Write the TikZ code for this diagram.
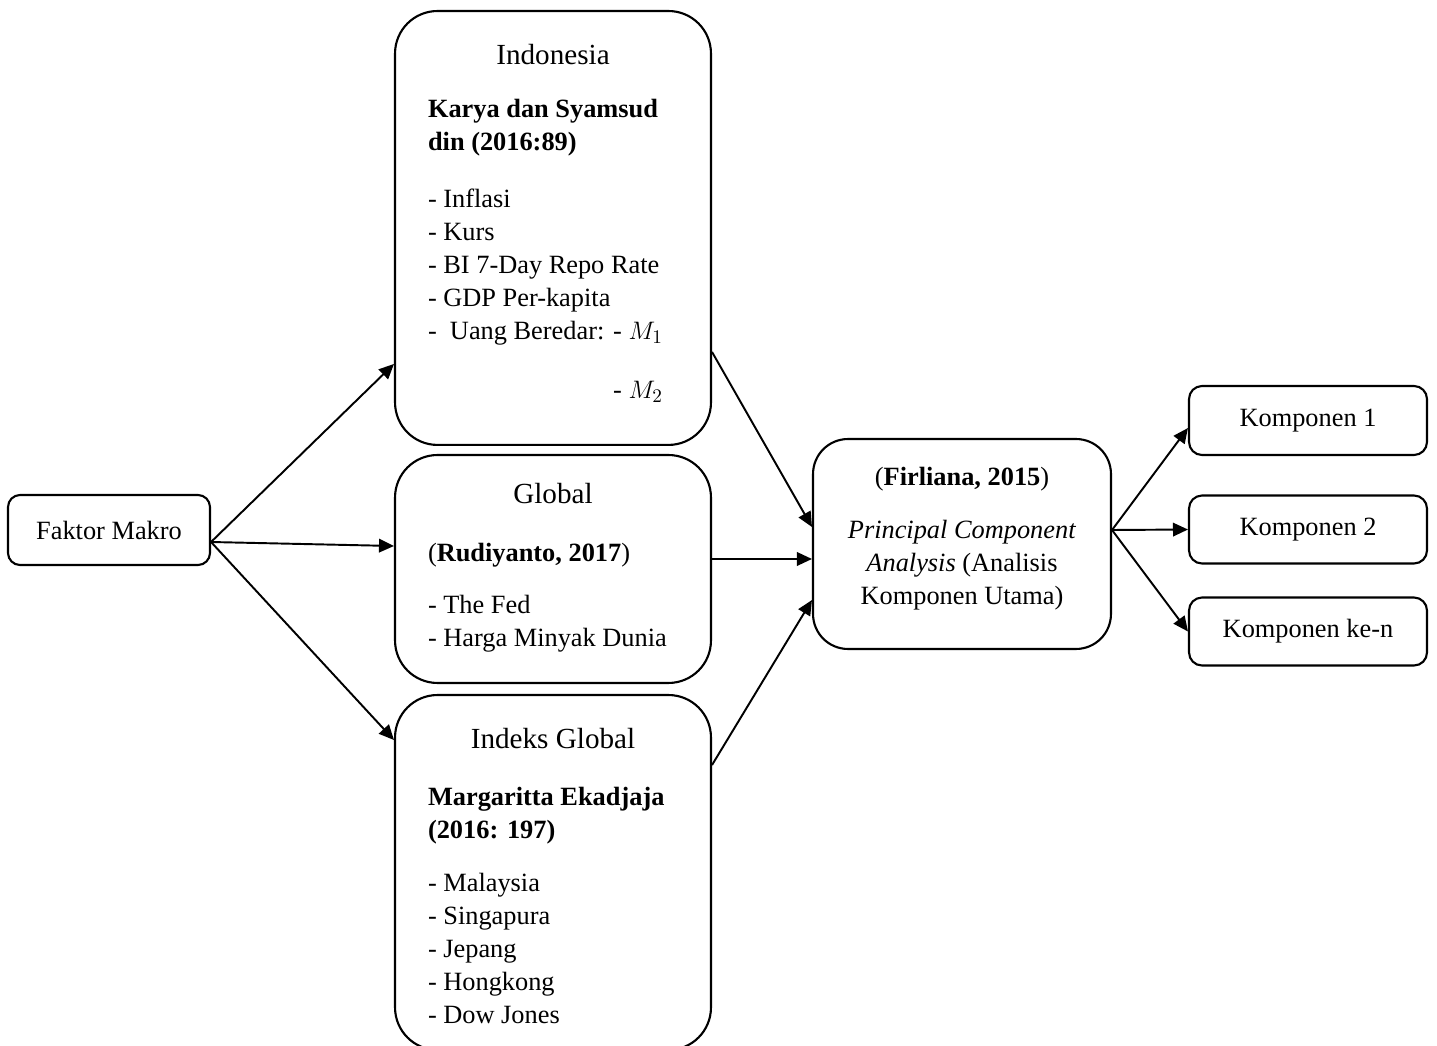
\documentclass[tikz,border=0pt]{standalone}
\usepackage{fontspec}
\setmainfont{Liberation Serif}
\usetikzlibrary{arrows.meta}

\tikzset{
  boxline/.style={draw, line width=1.2pt, font=\fontsize{15}{18.8}\selectfont},
  bigbox/.style={boxline, rounded corners=0.85cm, text width=5cm, align=flush left,
    inner xsep=0.66cm, inner ysep=0pt, anchor=base},
  smallbox/.style={boxline, rounded corners=0.26cm, inner sep=0pt,
    minimum width=4.76cm, minimum height=1.36cm},
  link/.style={line width=1.1pt, -{Triangle[length=0.3cm,width=0.27cm]}}
}
\newcommand{\boxhead}[1]{\makebox[\linewidth]{\fontsize{16.6}{18.8}\selectfont #1}}

\begin{document}
\begin{tikzpicture}[x=0.02cm, y=-0.02cm]
  \useasboundingbox (0,0) rectangle (1437,1045);

  % left factor
  \node[smallbox, minimum width=4.04cm, minimum height=1.4cm, rounded corners=0.24cm]
    (fm) at (109,530) {Faktor Makro};

  % the three groups of variables
  \node[bigbox, text height=1.06cm, text depth=7.62cm] (indo) at (553,64)
    {\boxhead{Indonesia}\\[0.4cm]
     \textbf{Karya dan Syamsud}\\
     \textbf{din (2016:89)}\\[0.48cm]
     - Inflasi\\
     - Kurs\\
     - BI 7-Day Repo Rate\\
     - GDP Per-kapita\\
     -~ Uang Beredar: - $M_1$\\[0.52cm]
     \phantom{-~ Uang Beredar: }- $M_2$};
  \node[bigbox, text height=0.96cm, text depth=3.6cm] (glob) at (553,503)
    {\boxhead{Global}\\[0.5cm]
     (\textbf{Rudiyanto, 2017})\\[0.38cm]
     - The Fed\\
     - Harga Minyak Dunia};
  \node[bigbox, text height=1.06cm, text depth=6.04cm] (idx) at (553,748)
    {\boxhead{Indeks Global}\\[0.48cm]
     \textbf{Margaritta Ekadjaja}\\
     \textbf{(2016: 197)}\\[0.4cm]
     - Malaysia\\
     - Singapura\\
     - Jepang\\
     - Hongkong\\
     - Dow Jones};

  % analysis
  \node[bigbox, align=flush center, rounded corners=0.7cm, inner xsep=0.48cm,
    text height=0.92cm, text depth=3.28cm] (pca) at (962,485)
    {(\textbf{Firliana, 2015})\\[0.4cm]
     \textit{Principal Component}\\
     \textit{Analysis} (Analisis\\
     Komponen Utama)};

  % components
  \node[smallbox, minimum height=1.38cm] (k1) at (1308,420.5) {Komponen 1};
  \node[smallbox] (k2) at (1308,529.5) {Komponen 2};
  \node[smallbox] (kn) at (1308,631.5) {Komponen ke-n};

  \draw[link] ([yshift=-0.24cm]fm.east) -- ([yshift=-2.72cm]indo.west);
  \draw[link] ([yshift=-0.24cm]fm.east) -- ([yshift=0.46cm]glob.west);
  \draw[link] ([yshift=-0.24cm]fm.east) -- ([yshift=2.65cm]idx.west);

  \draw[link] ([yshift=-2.48cm]indo.east) -- ([yshift=0.34cm]pca.west);
  \draw[link] ([yshift=0.2cm]glob.east) -- ([yshift=-0.3cm]pca.west);
  \draw[link] ([yshift=2.15cm]idx.east) -- ([yshift=-1.12cm]pca.west);

  \draw[link] ([yshift=0.28cm]pca.east) -- ([yshift=-0.15cm]k1.west);
  \draw[link] ([yshift=0.28cm]pca.east) -- (k2.west);
  \draw[link] ([yshift=0.28cm]pca.east) -- (kn.west);
\end{tikzpicture}
\end{document}
